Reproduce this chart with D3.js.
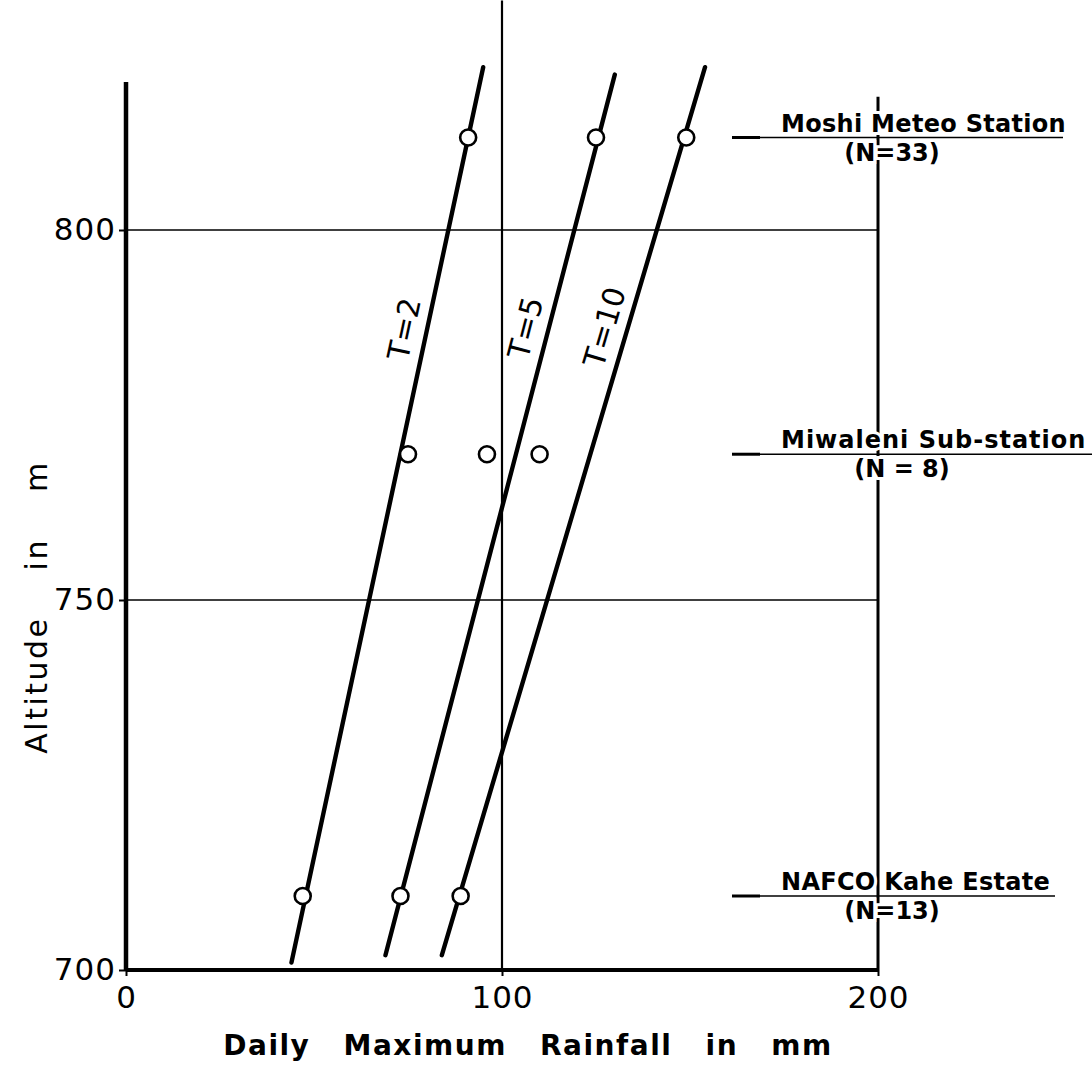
<!DOCTYPE html>
<html><head><meta charset="utf-8">
<script src="https://cdn.jsdelivr.net/npm/d3@7/dist/d3.min.js"></script>
<style>body{margin:0;background:#fff}svg{display:block}</style>
</head><body><svg id="c" width="1092" height="1083"></svg>
<script>
// ---- data ----
const stations = ["Moshi Meteo Station", "Miwaleni Sub-station", "NAFCO Kahe Estate"];
const stationN = ["(N=33)", "(N = 8)", "(N=13)"];
const stationAltitude = [812.5, 769.7, 710];
const rainT2 = [91, 75, 47];
const rainT5 = [125, 96, 73];
const rainT10 = [149, 110, 89];
const returnLabels = ["T=2", "T=5", "T=10"];
// fitted lines: [rain, altitude] at lower and upper ends
const lineLow = [[44, 701], [69, 702], [84, 702]];
const lineHigh = [[95, 822], [130, 821], [154, 822]];
const xTicks = [0, 100, 200];
const yTicks = [700, 750, 800];
const xTitle = "Daily Maximum Rainfall in mm";
const yTitle = "Altitude in m";

const svg = d3.select("#c");
const x = d3.scaleLinear().domain([0, 200]).range([126, 878]);
const y = d3.scaleLinear().domain([700, 800]).range([970, 230]);
const font = "'DejaVu Sans', sans-serif";

// gridlines
svg.append("g").selectAll("line").data([750, 800]).join("line")
  .attr("x1", x(0)).attr("x2", x(200))
  .attr("y1", d => y(d)).attr("y2", d => y(d))
  .attr("stroke", "#000").attr("stroke-width", 1.3);

// vertical lines at 100 and 200
svg.append("line").attr("x1", x(100)).attr("x2", x(100))
  .attr("y1", y(831)).attr("y2", y(700)).attr("stroke", "#000").attr("stroke-width", 2.2);
svg.append("line").attr("x1", x(200)).attr("x2", x(200))
  .attr("y1", y(818)).attr("y2", y(700)).attr("stroke", "#000").attr("stroke-width", 3);

// axes
const yAxis = d3.axisLeft(y).tickValues(yTicks).tickSize(7).tickPadding(3).tickFormat(d3.format("d"));
const gy = svg.append("g").attr("transform", `translate(${x(0)},0)`).call(yAxis);
gy.select(".domain").remove();
gy.append("line").attr("x1", 0).attr("x2", 0).attr("y1", y(820)).attr("y2", y(700))
  .attr("stroke", "#000").attr("stroke-width", 4.5);
gy.selectAll(".tick line").attr("stroke-width", 2);
gy.selectAll(".tick text").attr("font-family", font).attr("font-size", 31).attr("fill", "#000")
  .attr("letter-spacing", 1);

const xAxis = d3.axisBottom(x).tickValues(xTicks).tickSize(6).tickPadding(10).tickFormat(d3.format("d"));
const gx = svg.append("g").attr("transform", `translate(0,${y(700)})`).call(xAxis);
gx.select(".domain").remove();
gx.append("line").attr("x1", x(0)).attr("x2", x(200)).attr("y1", 0).attr("y2", 0)
  .attr("stroke", "#000").attr("stroke-width", 4);
gx.selectAll(".tick line").attr("stroke-width", 2);
gx.selectAll(".tick text").attr("font-family", font).attr("font-size", 31).attr("fill", "#000")
  .attr("letter-spacing", 1);

// axis titles
svg.append("text").attr("x", 528).attr("y", 1055).attr("text-anchor", "middle")
  .attr("font-family", font).attr("font-size", 28).attr("font-weight", "bold")
  .attr("letter-spacing", 1.5).attr("word-spacing", 22).text(xTitle);
svg.append("text").attr("transform", "translate(47,607) rotate(-90)").attr("text-anchor", "middle")
  .attr("font-family", font).attr("font-size", 30)
  .attr("letter-spacing", 2.5).attr("word-spacing", 34).text(yTitle);

// fitted lines
const lines = returnLabels.map((t, i) => ({t, a: lineLow[i], b: lineHigh[i]}));
svg.append("g").selectAll("line").data(lines).join("line")
  .attr("x1", d => x(d.a[0])).attr("y1", d => y(d.a[1]))
  .attr("x2", d => x(d.b[0])).attr("y2", d => y(d.b[1]))
  .attr("stroke", "#000").attr("stroke-width", 4.4).attr("stroke-linecap", "round");

// line labels
const labelAlt = 786;
svg.append("g").selectAll("text").data(lines).join("text")
  .attr("transform", d => {
    const px = x(d.a[0] + (d.b[0] - d.a[0]) * (labelAlt - d.a[1]) / (d.b[1] - d.a[1]));
    const ang = Math.atan2(y(d.b[1]) - y(d.a[1]), x(d.b[0]) - x(d.a[0])) * 180 / Math.PI;
    return `translate(${px},${y(labelAlt)}) rotate(${ang}) translate(0,-12)`;
  })
  .attr("text-anchor", "middle").attr("font-family", font).attr("font-size", 30)
  .text(d => d.t);

// points
const series = [rainT2, rainT5, rainT10];
const pts = [];
series.forEach(s => s.forEach((v, j) => pts.push({v, alt: stationAltitude[j]})));
svg.append("g").selectAll("circle").data(pts).join("circle")
  .attr("cx", d => x(d.v)).attr("cy", d => y(d.alt)).attr("r", 8)
  .attr("fill", "#fff").attr("stroke", "#000").attr("stroke-width", 2.6);

// station labels
const lineEnds = [1063, 1092, 1055];
const nCenter = [892, 902, 892];
const lab = svg.append("g");
stations.forEach((s, i) => {
  const yy = y(stationAltitude[i]);
  lab.append("line").attr("x1", 732).attr("x2", lineEnds[i]).attr("y1", yy).attr("y2", yy)
    .attr("stroke", "#000").attr("stroke-width", 1.4);
  lab.append("line").attr("x1", 732).attr("x2", 760).attr("y1", yy).attr("y2", yy)
    .attr("stroke", "#000").attr("stroke-width", 3);
  lab.append("text").attr("x", 781).attr("y", yy - 6)
    .attr("font-family", font).attr("font-size", 24).attr("font-weight", "bold")
    .attr("letter-spacing", i === 1 ? 1 : 0.3)
    .attr("stroke", "#fff").attr("stroke-width", 6).attr("paint-order", "stroke")
    .text(s);
  lab.append("text").attr("x", nCenter[i]).attr("y", yy + 23).attr("text-anchor", "middle")
    .attr("font-family", font).attr("font-size", 24).attr("font-weight", "bold")
    .attr("stroke", "#fff").attr("stroke-width", 6).attr("paint-order", "stroke")
    .text(stationN[i]);
});
</script></body></html>
